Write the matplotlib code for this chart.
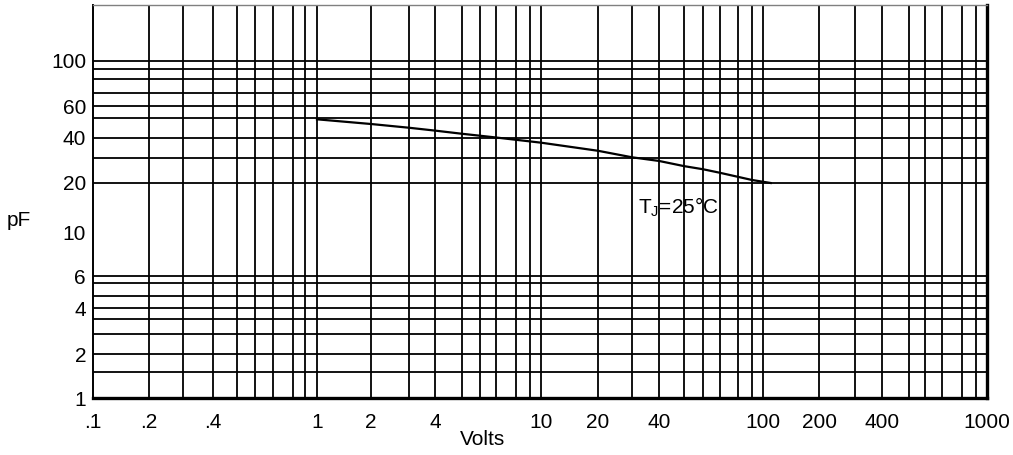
import numpy as np
import matplotlib
matplotlib.use("Agg")
import matplotlib.pyplot as plt
from matplotlib.ticker import FixedLocator, FixedFormatter, NullLocator

plt.rcParams['font.family'] = ['Liberation Sans', 'DejaVu Sans']
plt.rcParams['mathtext.fontset'] = 'custom'
plt.rcParams['mathtext.rm'] = 'Liberation Sans'

# ---- data ----
volts = [1, 2, 3, 4, 5, 6, 7, 10, 20, 30, 40, 50, 60, 70, 80, 90, 110]
cap_pf = [49, 46.5, 44.6, 43.2, 41.7, 40.8, 40, 37.2, 33.2, 30.3, 28.6,
          26.3, 25.0, 23.6, 22.1, 21.0, 20]

x_ticks = [0.1, 0.2, 0.4, 1, 2, 4, 10, 20, 40, 100, 200, 400, 1000]
x_tick_labels = ['.1', '.2', '.4', '1', '2', '4', '10', '20', '40',
                 '100', '200', '400', '1000']
y_ticks = [1, 2, 4, 6, 10, 20, 40, 60, 100]
y_tick_labels = ['1', '2', '4', '6', '10', '20', '40', '60', '100']

# grid line values of the (hand drawn) chart paper
x_grid = [0.2, 0.3, 0.4, 0.5, 0.6, 0.7, 0.8, 0.9,
          1, 2, 3, 4, 5, 6, 7, 8, 9,
          10, 20, 30, 40, 50, 60, 70, 80, 90,
          100, 200, 300, 400, 500, 600, 700, 800, 900, 1000]
y_grid = [1.5, 2, 3, 3.5, 4, 4.5, 5, 6,
          20, 30, 40, 50, 60, 70, 80, 90, 100]

# ---- layout of the distorted chart paper (scale calibration) ----
# nominal value -> where the paper puts it (pixels of the reference)
x_cal_vals = [0.1, 0.2, 0.3, 0.4, 0.5, 0.6, 0.7, 0.8, 0.9,
              1, 2, 3, 4, 5, 6, 7, 8, 9,
              10, 20, 30, 40, 50, 60, 70, 80, 90,
              100, 200, 300, 400, 500, 600, 700, 800, 900, 1000]
x_cal_pos = [93, 149, 183, 213, 237, 255, 273, 293, 305,
             317, 371, 409, 435, 462, 480, 496, 516, 530,
             541, 598, 632, 659, 684, 703, 720, 738, 752,
             763, 819, 855, 882, 909, 925, 942, 962, 976, 985]
y_cal_vals = [1, 1.5, 2, 3, 3.5, 4, 4.5, 5, 6, 10,
              20, 30, 40, 50, 60, 70, 80, 90, 100, 200]
y_cal_pos = [398, 372, 354, 334, 319, 308, 296, 283, 276, 233,
             183, 158, 137.5, 117.5, 106, 93, 79, 69, 61, 5]

L, R, T, B = 93, 987, 5, 398
W, H = 1013, 455


def make_funcs(vals, fracs):
    lv = np.log10(np.asarray(vals, float))
    fr = np.asarray(fracs, float)

    def fwd(v):
        v = np.asarray(v, float)
        with np.errstate(divide='ignore', invalid='ignore'):
            l = np.log10(np.where(v > 0, v, np.nan))
        return np.interp(l, lv, fr)

    def inv(f):
        return 10 ** np.interp(np.asarray(f, float), fr, lv)
    return fwd, inv


x_fr = [(p - L) / (R - L) for p in x_cal_pos]
x_fr[0], x_fr[-1] = 0.0, 1.0
y_fr = [(B - p) / (B - T) for p in y_cal_pos]

fig = plt.figure(figsize=(W / 100, H / 100), dpi=100)
ax = fig.add_axes([L / W, (H - B) / H, (R - L) / W, (B - T) / H])

ax.set_xscale('function', functions=make_funcs(x_cal_vals, x_fr))
ax.set_yscale('function', functions=make_funcs(y_cal_vals, y_fr))
ax.set_xlim(0.1, 1000)
ax.set_ylim(1, 200)

lw = 1.3
for v in x_grid:
    ax.axvline(v, color='black', lw=lw, zorder=1)
for v in y_grid:
    ax.axhline(v, color='black', lw=lw, zorder=1)

ax.plot(volts, cap_pf, color='black', lw=1.6, zorder=3)

fs = 15
ax.xaxis.set_major_locator(FixedLocator(x_ticks))
ax.xaxis.set_major_formatter(FixedFormatter(x_tick_labels))
ax.yaxis.set_major_locator(FixedLocator(y_ticks))
ax.yaxis.set_major_formatter(FixedFormatter(y_tick_labels))
ax.xaxis.set_minor_locator(NullLocator())
ax.yaxis.set_minor_locator(NullLocator())
ax.tick_params(axis='both', length=0, labelsize=fs, colors='black')
ax.tick_params(axis='x', pad=11)
ax.tick_params(axis='y', pad=5)

for side, w in (('left', 1.4), ('bottom', 2.4), ('right', 2.4)):
    ax.spines[side].set_linewidth(w)
    ax.spines[side].set_color('black')
ax.spines['top'].set_linewidth(1.0)
ax.spines['top'].set_color('#808080')

ax.set_xlabel('Volts', fontsize=fs)
ax.xaxis.set_label_coords((483 - L) / (R - L), -0.082)
ax.set_ylabel('pF', fontsize=fs, rotation=0, va='center', ha='center')
ax.yaxis.set_label_coords((19 - L) / (R - L), (B - 221) / (B - T))

ax.text((638 - L) / (R - L), (B - 213) / (B - T),
        r'T$_\mathregular{J}$=25°C', transform=ax.transAxes,
        fontsize=fs, va='baseline', ha='left', zorder=4)

fig.savefig('out.png', dpi=100)
